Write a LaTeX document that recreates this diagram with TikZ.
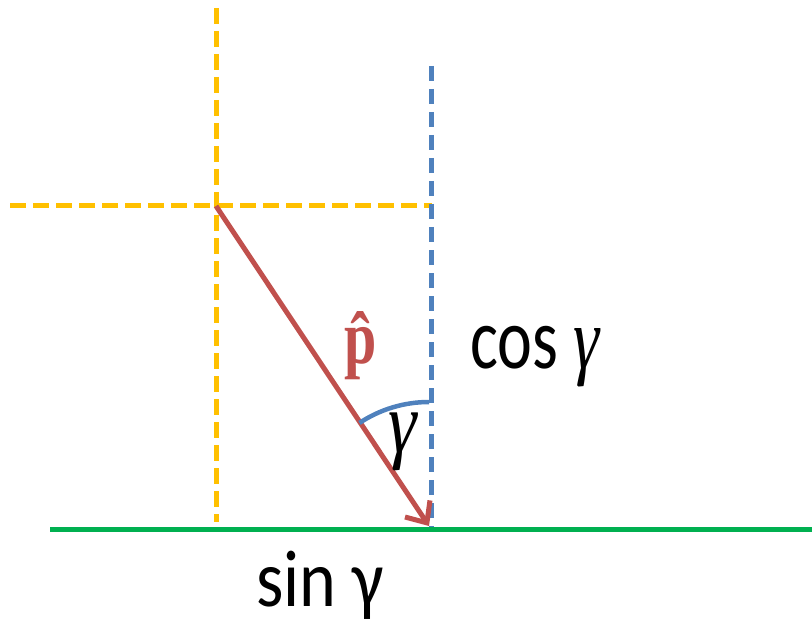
\documentclass[tikz,border=0pt]{standalone}
\usepackage{fontspec}
\setmainfont{Carlito}
\newfontfamily\serifg{Liberation Serif}
\usetikzlibrary{arrows.meta}
\definecolor{oyellow}{HTML}{FFC000}
\definecolor{oblue}{HTML}{4F81BD}
\definecolor{ored}{HTML}{C0504D}
\definecolor{ogreen}{HTML}{00B050}
\newcommand{\gitl}{{\serifg\itshape γ}}
\newcommand{\tall}[1]{\scalebox{1}[1.32]{#1}}
\begin{document}
\begin{tikzpicture}[x=1pt,y=-1pt,
  ydash/.style={oyellow,line width=5pt,dash pattern=on 16pt off 7pt},
  bdash/.style={oblue,line width=5pt,dash pattern=on 15pt off 8pt},
  lbl/.style={font=\fontsize{66}{70}\selectfont,inner sep=0pt}]
\useasboundingbox (0,0) rectangle (812,623);
\coordinate (ytop) at (216,8);
\coordinate (ybot) at (216,522);
\coordinate (yl) at (10,206);
\coordinate (yr) at (432,206);
\coordinate (btop) at (431,66);
\coordinate (bbot) at (431,528);
\coordinate (gl) at (50,529);
\coordinate (gr) at (812,529);
\coordinate (p0) at (216,206);
\coordinate (p1) at (429,526);
\draw[ydash] (ytop) -- (ybot);
\draw[ydash] (yl) -- (yr);
\draw[bdash] (btop) -- (bbot);
\draw[ogreen,line width=5pt] (gl) -- (gr);
\draw[ored,line width=5pt,-{Straight Barb[length=17pt,width=30pt,line width=5pt]}] (p0) -- (p1);
\draw[oblue,line width=4.5pt] (429,402) arc[start angle=-90,end angle=-123.5,radius=126];
\node[lbl,text=ored,font=\fontsize{58}{62}\selectfont\serifg\bfseries] (phat) at (361,346) {\tall{\^{p}}};
\node[lbl,font=\fontsize{72}{76}\selectfont] (gam) at (403,442) {\scalebox{1}[1.2]{\gitl}};
\node[lbl,anchor=base west] (cos) at (470,368) {\tall{cos \gitl}};
\node[lbl,anchor=base west,font=\fontsize{70}{74}\selectfont] (sin) at (256,606) {\scalebox{1}[1.15]{sin γ}};
\end{tikzpicture}
\end{document}
